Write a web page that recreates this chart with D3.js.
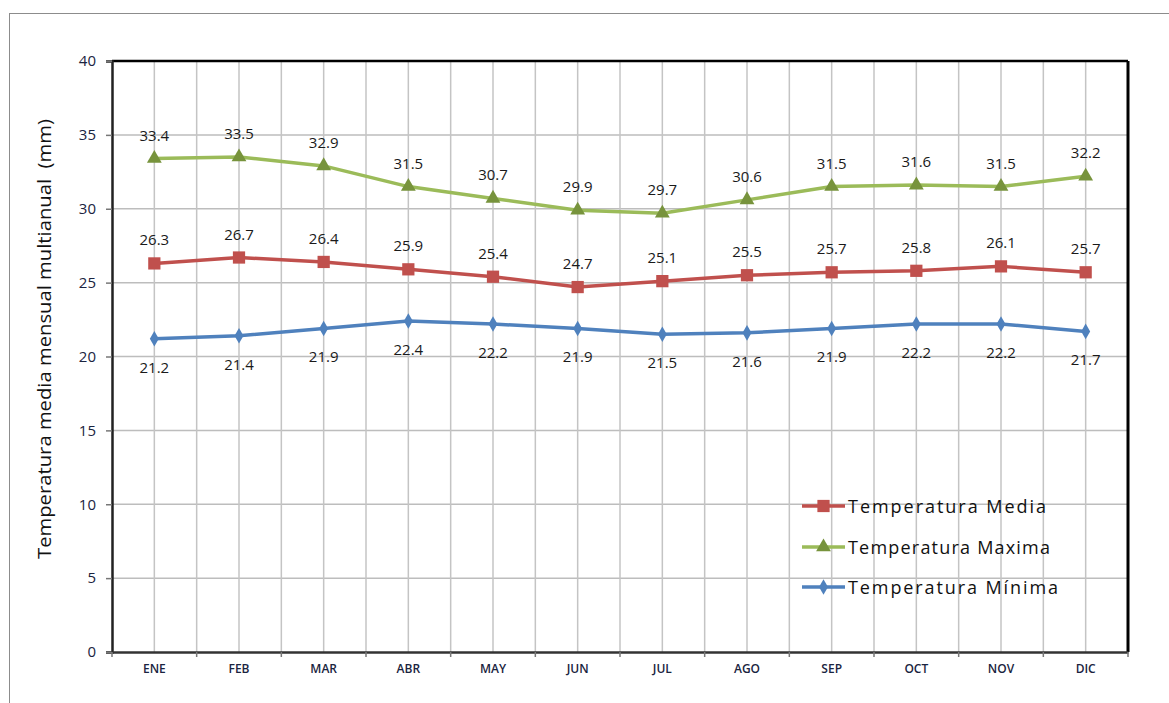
<!DOCTYPE html>
<html><head><meta charset="utf-8">
<script src="https://cdn.jsdelivr.net/npm/d3@7"></script>
<style>body{margin:0;background:#fff}svg{display:block}</style>
</head><body>
<svg id="c" width="1169" height="703"></svg>
<script>
const months = ["ENE","FEB","MAR","ABR","MAY","JUN","JUL","AGO","SEP","OCT","NOV","DIC"];
const tMedia = [26.3,26.7,26.4,25.9,25.4,24.7,25.1,25.5,25.7,25.8,26.1,25.7];
const tMax = [33.4,33.5,32.9,31.5,30.7,29.9,29.7,30.6,31.5,31.6,31.5,32.2];
const tMin = [21.2,21.4,21.9,22.4,22.2,21.9,21.5,21.6,21.9,22.2,22.2,21.7];
const yTicks = [0,5,10,15,20,25,30,35,40];
const seriesNames = ["Temperatura Media","Temperatura Maxima","Temperatura Mínima"];

const svg = d3.select("#c");
const L=112, R=1128, T=61, B=652;
const font = "'Open Sans', 'DejaVu Sans', sans-serif";

// outer frame
svg.append("rect").attr("x",9.5).attr("y",13.5).attr("width",1200).attr("height",720)
  .attr("fill","none").attr("stroke","#8c8c8c").attr("stroke-width",1);

const x = d3.scaleBand().domain(months).range([L,R]);
const y = d3.scaleLinear().domain([0,40]).range([B,T]);

// gridlines horizontal
svg.append("g").selectAll("line").data(yTicks.slice(1)).join("line")
  .attr("x1",L).attr("x2",R).attr("y1",d=>y(d)).attr("y2",d=>y(d))
  .attr("stroke","#bdbdbd").attr("stroke-width",1.5);
// vertical gridlines at centers and boundaries
const vx = [];
months.forEach((m,i)=>{ vx.push(x(m)+x.bandwidth()/2); if(i>0) vx.push(x(m)); });
svg.append("g").selectAll("line").data(vx).join("line")
  .attr("x1",d=>d).attr("x2",d=>d).attr("y1",T).attr("y2",B)
  .attr("stroke","#c4c4c4").attr("stroke-width",1.5);

// plot frame
svg.append("line").attr("x1",L).attr("x2",R).attr("y1",T).attr("y2",T).attr("stroke","#000").attr("stroke-width",2.5);
svg.append("line").attr("x1",R).attr("x2",R).attr("y1",T).attr("y2",B).attr("stroke","#000").attr("stroke-width",3);

// axes
const yAxis = d3.axisLeft(y).tickValues(yTicks).tickSize(6).tickPadding(10);
const gy = svg.append("g").attr("transform",`translate(${L},0)`).call(yAxis);
gy.select(".domain").attr("stroke","#222").attr("stroke-width",2.5);
gy.selectAll(".tick line").attr("stroke","#777").attr("stroke-width",1.5);
gy.selectAll("text").attr("font-family",font).attr("font-size",15).attr("fill","#1a2440");

const xAxis = d3.axisBottom(x).tickSize(0).tickPadding(12);
const gx = svg.append("g").attr("transform",`translate(0,${B})`).call(xAxis);
gx.select(".domain").attr("stroke","#333").attr("stroke-width",2.5);
gx.selectAll("text").attr("font-family",font).attr("font-size",12).attr("font-weight",600).attr("fill","#1a2440");
// boundary ticks
svg.append("g").selectAll("line").data(months.map(m=>x(m)).concat([R])).join("line")
  .attr("x1",d=>d).attr("x2",d=>d).attr("y1",B).attr("y2",B+5).attr("stroke","#777").attr("stroke-width",1.5);

// y title
svg.append("text").attr("transform",`translate(51,${339}) rotate(-90)`)
  .attr("text-anchor","middle").attr("font-family",font).attr("font-size",18.5).attr("fill","#111")
  .attr("xml:space","preserve").style("white-space","pre")
  .attr("textLength",440).attr("lengthAdjust","spacingAndGlyphs")
  .text("Temperatura media mensual multianual  (mm)");

const line = d3.line().x((d,i)=>x(months[i])+x.bandwidth()/2).y(d=>y(d));
const series = [
  {name:seriesNames[0], vals:tMedia, color:"#C0504D", mcolor:"#C0504D", sym:d3.symbolSquare, size:150, dy:-18},
  {name:seriesNames[1], vals:tMax, color:"#9BBB59", mcolor:"#77933C", sym:d3.symbolTriangle, size:95, dy:-18},
  {name:seriesNames[2], vals:tMin, color:"#4F81BD", mcolor:"#4F81BD", sym:d3.symbolDiamond, size:70, dy:34}
];
series.forEach(s=>{
  svg.append("path").datum(s.vals).attr("d",line).attr("fill","none")
    .attr("stroke",s.color).attr("stroke-width",3.5).attr("stroke-linejoin","round");
  svg.append("g").selectAll("path").data(s.vals).join("path")
    .attr("d",d3.symbol().type(s.sym).size(s.size))
    .attr("transform",(d,i)=>`translate(${x(months[i])+x.bandwidth()/2},${y(d)})`)
    .attr("fill",s.mcolor);
  svg.append("g").selectAll("text").data(s.vals).join("text")
    .attr("x",(d,i)=>x(months[i])+x.bandwidth()/2).attr("y",d=>y(d)+s.dy)
    .attr("text-anchor","middle").attr("font-family",font).attr("font-size",15).attr("fill","#1a1a1a")
    .text(d=>d.toFixed(1));
});

// legend
const ly = [506,547,587];
series.forEach((s,i)=>{
  const g = svg.append("g").attr("transform",`translate(802,${ly[i]})`);
  g.append("line").attr("x1",0).attr("x2",43).attr("stroke",s.color).attr("stroke-width",3.5);
  g.append("path").attr("d",d3.symbol().type(s.sym).size(s.size)).attr("transform","translate(21.5,0)").attr("fill",s.mcolor);
  g.append("text").attr("x",46).attr("y",6.5).attr("font-family",font).attr("font-size",18).attr("fill","#111")
    .attr("textLength",[198,202,210][i]).attr("lengthAdjust","spacing").text(s.name);
});
</script>
</body></html>
